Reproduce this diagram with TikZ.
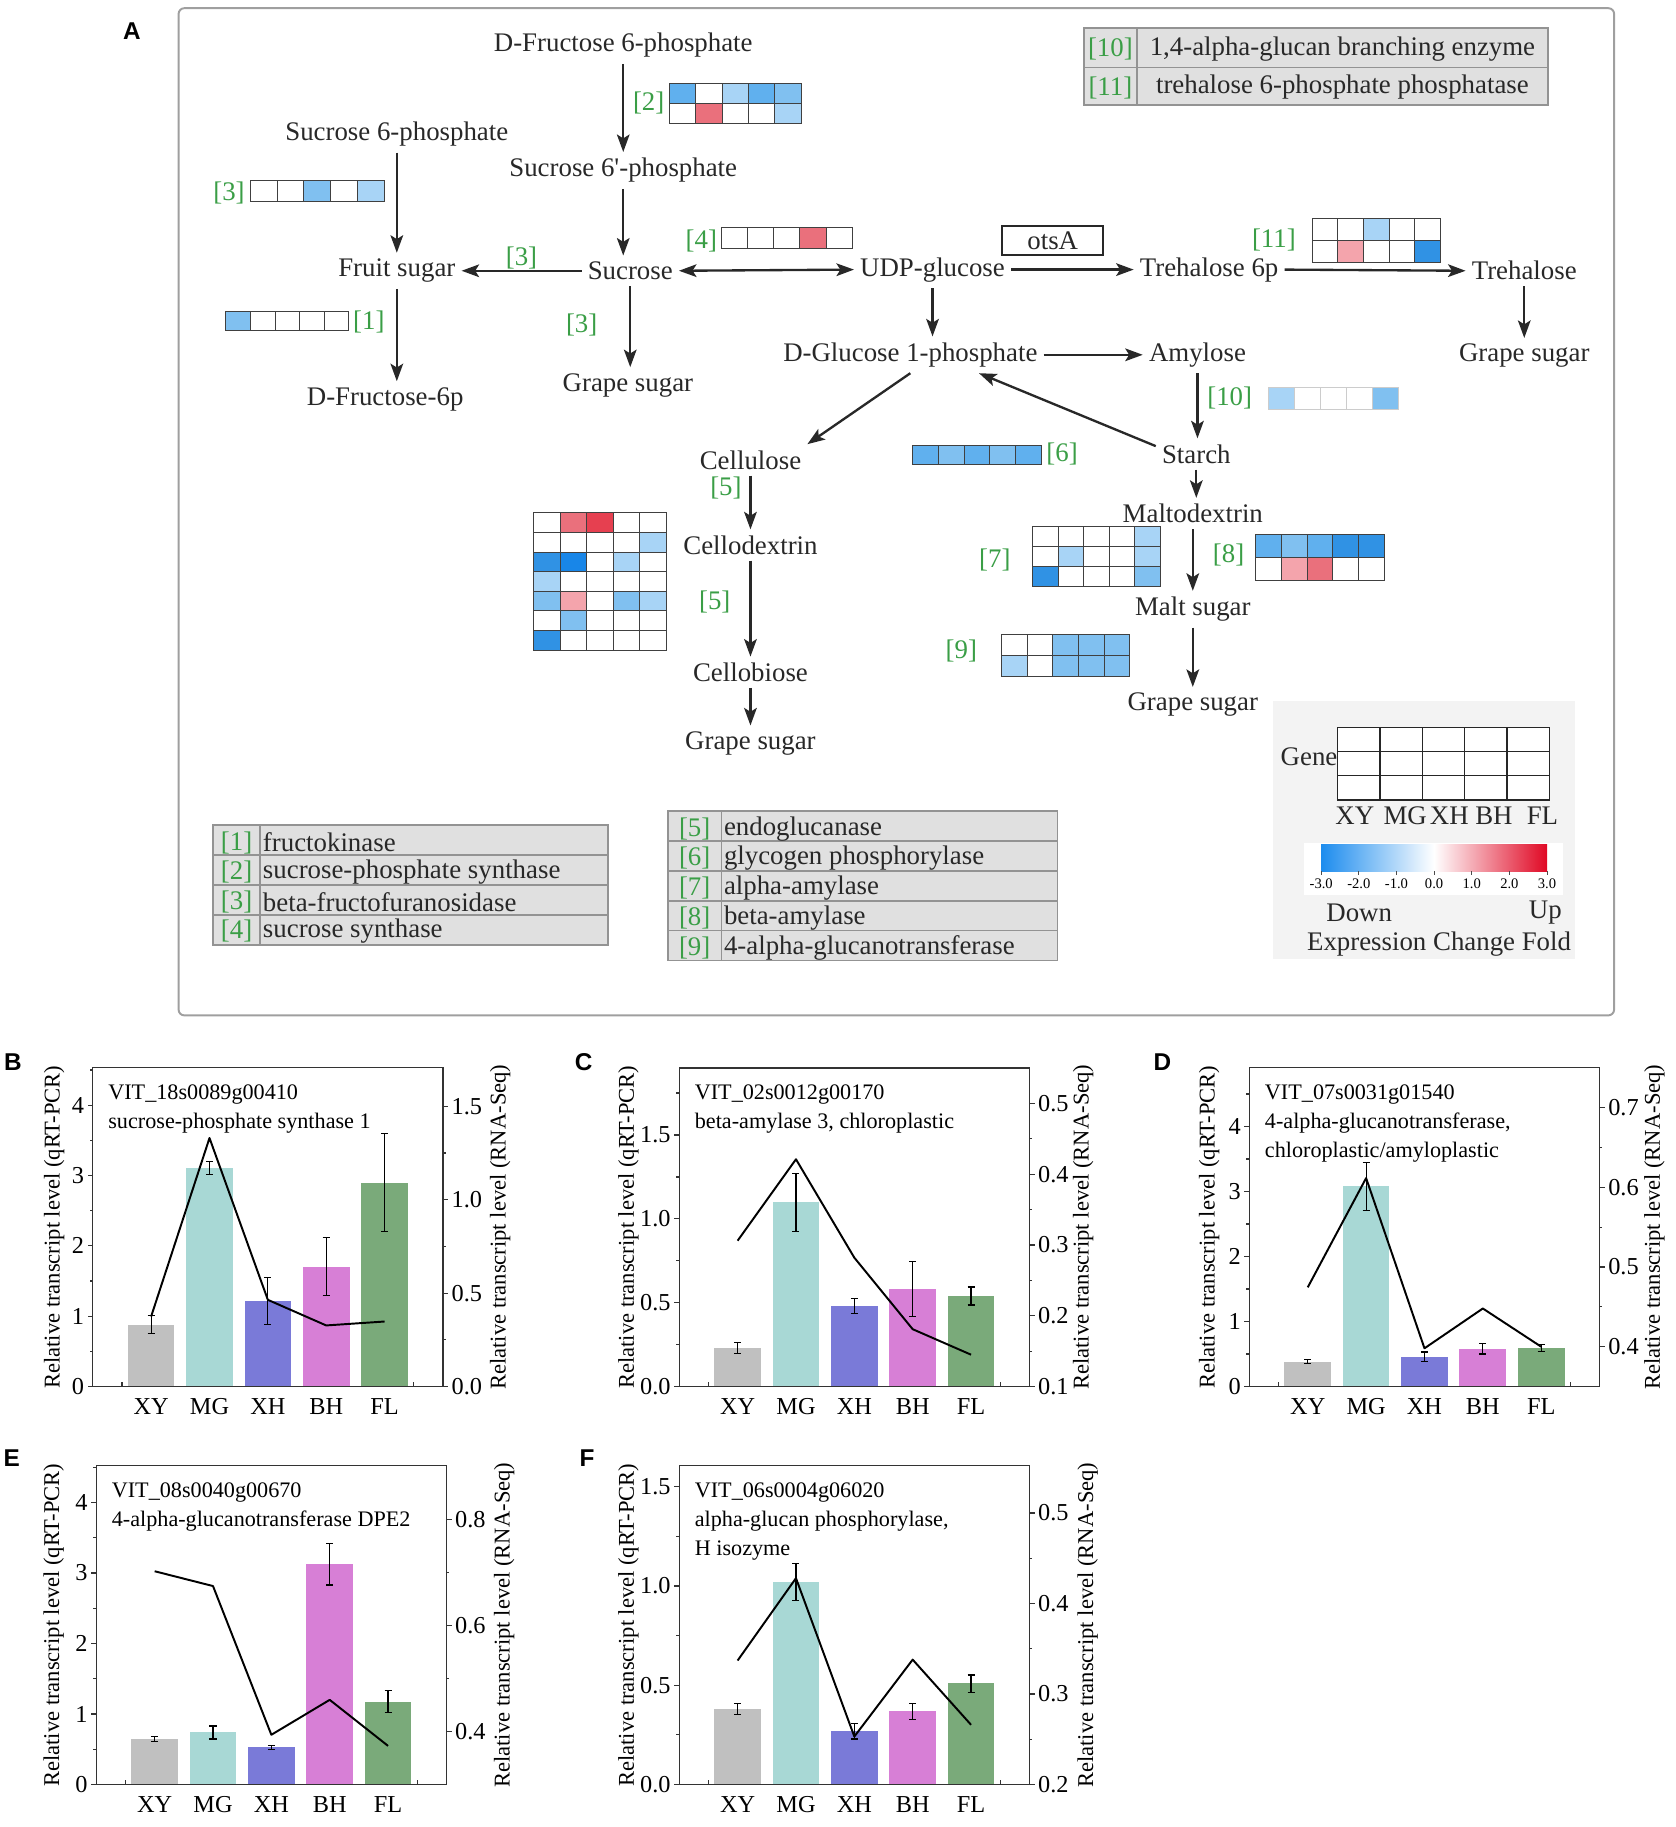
\documentclass[tikz,border=0pt]{standalone}
\usepackage{fontspec}
\setmainfont{Liberation Serif}
\newfontfamily\panelfont{Liberation Sans}
\usetikzlibrary{arrows.meta}

\definecolor{inkgray}{RGB}{40,40,40}
\definecolor{enzgreen}{RGB}{58,158,70}
\definecolor{hb1}{RGB}{168,212,246}
\definecolor{hb2}{RGB}{128,192,240}
\definecolor{hb3}{RGB}{96,176,238}
\definecolor{hb4}{RGB}{48,146,228}
\definecolor{hb5}{RGB}{24,134,232}
\definecolor{hr1}{RGB}{244,164,172}
\definecolor{hr2}{RGB}{234,112,124}
\definecolor{hr3}{RGB}{230,64,80}
\definecolor{tabgray}{RGB}{224,224,224}
\definecolor{leggray}{RGB}{243,243,243}
\definecolor{cbblue}{RGB}{28,140,238}
\definecolor{cbred}{RGB}{224,8,36}
\definecolor{cXY}{RGB}{192,192,192}
\definecolor{cMG}{RGB}{168,216,213}
\definecolor{cXH}{RGB}{122,122,216}
\definecolor{cBH}{RGB}{215,127,214}
\definecolor{cFL}{RGB}{122,170,122}

% heat map: x0, y0, cell width, cell height, rows of colours
\newcommand{\hmap}[5]{%
  \foreach \hrow [count=\hr from 0] in {#5}{
    \foreach \hcol [count=\hk from 0] in \hrow
      \draw[cell, fill=\hcol] ({#1+\hk*#3},{#2+\hr*#4}) rectangle ++(#3,#4);
  }}

\begin{document}
\begin{tikzpicture}[x=0.6pt, y=-0.6pt,
  met/.style={font=\fontsize{13.8}{16}\selectfont, text=inkgray, inner sep=3pt},
  enz/.style={font=\fontsize{13.8}{16}\selectfont, text=enzgreen, inner sep=0pt},
  tabtxt/.style={font=\fontsize{13.8}{16}\selectfont, text=inkgray, inner sep=0pt},
  arr/.style={draw=inkgray, line width=1.2pt, -{Stealth[length=9pt,width=6.5pt,inset=2pt]}},
  dblarr/.style={draw=inkgray, line width=1.2pt, {Stealth[length=9pt,width=6.5pt,inset=2pt]}-{Stealth[length=9pt,width=6.5pt,inset=2pt]}},
  cell/.style={draw=black!75, line width=0.5pt},
  tab/.style={fill=tabgray, draw=gray!85, line width=0.8pt},
  tabline/.style={draw=gray!85, line width=0.8pt},
  panel/.style={font=\panelfont\bfseries\fontsize{12.5}{14}\selectfont, inner sep=0pt},
  frame/.style={draw=black!80, line width=0.6pt},
  errbar/.style={draw=black, line width=0.6pt},
  trend/.style={draw=black, line width=1pt, line join=round},
  ticklab/.style={font=\fontsize{12.5}{14}\selectfont, inner sep=1.5pt},
  catlab/.style={font=\fontsize{12.5}{14}\selectfont, anchor=base, yshift=-14.6pt, inner sep=0pt},
  axtitle/.style={font=\fontsize{11.6}{14}\selectfont, rotate=90, inner sep=0pt},
  genetxt/.style={font=\fontsize{11.4}{14}\selectfont, anchor=base west, inner sep=0pt},
  smalltick/.style={font=\fontsize{7.5}{9}\selectfont, inner sep=0pt}]
\useasboundingbox (0,0) rectangle (1436,1565.4);

% ---------- panel A ----------
\draw[draw=gray!75, line width=1pt, rounded corners=3pt] (153,7) rectangle (1383,870);
\node[panel] (labA) at (113,27) {A};

% enzyme tables
\draw[tab] (928.7,24) rectangle (1326.5,90);
\draw[tabline] (974,24) -- (974,90) (928.7,58) -- (1326.5,58);
\node[enz] (t10) at (951.4,42) {[10]};
\node[tabtxt] (t10name) at (1150.2,42) {1,4-alpha-glucan branching enzyme};
\node[enz] (t11) at (951.4,75) {[11]};
\node[tabtxt] (t11name) at (1150.2,75) {trehalose 6-phosphate phosphatase};

\draw[tab] (182.5,707) rectangle (521,809.5);
\foreach \ty in {732.6,758.3,783.9}
  \draw[tabline] (182.5,\ty) -- (521,\ty);
\draw[tabline] (223,707) -- (223,809.5);
\foreach \en/\et/\ty in {1/fructokinase/722,2/sucrose-phosphate synthase/747,
    3/beta-fructofuranosidase/773,4/sucrose synthase/798}{
  \node[enz] (tn\en) at (202.7,\ty) {[\en]};
  \node[tabtxt, anchor=west] (tt\en) at (225,\ty) {\et};
}

\draw[tab] (572.5,695) rectangle (906,823);
\foreach \ty in {720.6,746.2,771.8,797.4}
  \draw[tabline] (572.5,\ty) -- (906,\ty);
\draw[tabline] (618,695) -- (618,823);
\foreach \en/\et/\ty in {5/endoglucanase/710,6/glycogen phosphorylase/735.4,
    7/alpha-amylase/761,8/beta-amylase/786.6,9/4-alpha-glucanotransferase/812.2}{
  \node[enz] (tn\en) at (595.2,\ty) {[\en]};
  \node[tabtxt, anchor=west] (tt\en) at (620,\ty) {\et};
}

% metabolites
\node[met] (fsixp) at (534,39) {D-Fructose 6-phosphate};
\node[met] (sucsixpp) at (534,146) {Sucrose 6\textquotesingle-phosphate};
\node[met] (sucsixp) at (340,115) {Sucrose 6-phosphate};
\node[met] (fruit) at (340,232) {Fruit sugar};
\node[met] (suc) at (540,232) {Sucrose};
\node[met] (udp) at (799,231) {UDP-glucose};
\node[met] (tresixp) at (1036,231) {Trehalose 6p};
\node[met] (tre) at (1306,232) {Trehalose};
\node[met] (grapeT) at (1306,305) {Grape sugar};
\node[met] (fsixpb) at (330,342) {D-Fructose-6p};
\node[met] (grapeS) at (538,330) {Grape sugar};
\node[met] (gonep) at (780,304) {D-Glucose 1-phosphate};
\node[met] (amyl) at (1026,304) {Amylose};
\node[met] (starch) at (1025,389) {Starch};
\node[met] (malto) at (1022,440) {Maltodextrin};
\node[met] (malt) at (1022,522) {Malt sugar};
\node[met] (grapeM) at (1022,604) {Grape sugar};
\node[met] (cellu) at (643,394) {Cellulose};
\node[met] (celld) at (643,467) {Cellodextrin};
\node[met] (cellb) at (643,576) {Cellobiose};
\node[met] (grapeC) at (643,637) {Grape sugar};
\node[met, draw=inkgray, line width=1.2pt, minimum width=52pt, minimum height=15pt, inner sep=0pt] (ots) at (902,206) {otsA};

% reactions
\draw[arr] (fsixp.south) -- (sucsixpp.north);
\draw[arr] (sucsixpp.south) -- (sucsixpp.south |- suc.north);
\draw[arr] (sucsixp.south) -- (fruit.north);
\draw[arr] (suc.west) -- (fruit.east);
\draw[dblarr] (suc.east) -- (udp.west);
\draw[arr] (fruit.south) -- (fruit.south |- fsixpb.north);
\draw[arr] (suc.south) -- (suc.south |- grapeS.north);
\draw[arr] (udp.east) -- (tresixp.west);
\draw[arr] (tresixp.east) -- (tre.west);
\draw[arr] (tre.south) -- (grapeT.north);
\draw[arr] (udp.south) -- (udp.south |- gonep.north);
\draw[arr] (gonep.east) -- (amyl.west);
\draw[arr] (gonep.south) -- (cellu.north east);
\draw[arr] (starch.169) -- (gonep.-15);
\draw[arr] (amyl.south) -- (amyl.south |- starch.north);
\draw[arr] (starch.south) -- (starch.south |- malto.north);
\draw[arr] (malto.south) -- (malto.south |- malt.north);
\draw[arr] (malt.south) -- (malt.south |- grapeM.north);
\draw[arr] (cellu.south) -- (celld.north);
\draw[arr] (celld.south) -- (cellb.north);
\draw[arr] (cellb.south) -- (grapeC.north);

% enzyme numbers
\node[enz] (e2) at (555.8,88) {[2]};
\node[enz] (e3a) at (196.2,165.7) {[3]};
\node[enz] (e3b) at (446.8,221.4) {[3]};
\node[enz] (e4) at (600.9,206.3) {[4]};
\node[enz] (e1) at (316,275.7) {[1]};
\node[enz] (e3c) at (498.4,278.5) {[3]};
\node[enz] (e11) at (1091.5,205.7) {[11]};
\node[enz] (e10) at (1053.6,341.4) {[10]};
\node[enz] (e6) at (910,388.7) {[6]};
\node[enz] (e5a) at (622,418.5) {[5]};
\node[enz] (e5b) at (612.4,515.6) {[5]};
\node[enz] (e7) at (852.4,480) {[7]};
\node[enz] (e8) at (1052.7,475.1) {[8]};
\node[enz] (e9) at (823.7,557.9) {[9]};

% heat maps
\hmap{573.4}{71.4}{22.6}{17.1}{{hb3,white,hb1,hb3,hb2},{white,hr2,white,white,hb1}}
\hmap{214.6}{154.3}{22.9}{18.5}{{white,white,hb2,white,hb1}}
\hmap{618.2}{195.1}{22.4}{17.7}{{white,white,white,hr2,white}}
\hmap{193.5}{267.1}{21.1}{16.3}{{hb2,white,white,white,white}}
\hmap{1124.3}{187.1}{22.0}{18.85}{{white,white,hb1,white,white},{white,hr1,white,white,hb4}}
\begin{scope}[cell/.style={draw=gray!40, line width=0.5pt}]
\hmap{1086.9}{332.2}{22.3}{18.6}{{hb1,white,white,white,hb2}}
\end{scope}
\hmap{781.6}{381.5}{22.2}{16.5}{{hb3,hb2,hb3,hb2,hb3}}
\hmap{457.5}{439.4}{22.7}{16.8}{{white,hr2,hr3,white,white},{white,white,white,white,hb1},
  {hb4,hb5,white,hb1,white},{hb1,white,white,white,white},{hb2,hr1,white,hb2,hb1},
  {white,hb2,white,white,white},{hb4,white,white,white,white}}
\hmap{884.8}{451.1}{21.9}{17.2}{{white,white,white,white,hb1},{white,hb1,white,white,hb1},
  {hb4,white,white,white,hb2}}
\hmap{1075.8}{457.7}{22.1}{19.75}{{hb3,hb2,hb3,hb4,hb4},{white,hr1,hr2,white,white}}
\hmap{858.4}{543.8}{21.9}{17.7}{{white,white,hb2,hb2,hb2},{hb1,white,hb2,hb2,hb2}}

% legend
\fill[leggray] (1090.6,601) rectangle (1349.5,822);
\begin{scope}[cell/.style={draw=black!85, line width=0.7pt}]
\hmap{1146}{623.5}{36.3}{20.6}{{white,white,white,white,white},{white,white,white,white,white},
  {white,white,white,white,white}}
\end{scope}
\node[met, inner sep=0pt] (gene) at (1121.6,648) {Gene};
\foreach \sn/\sx in {XY/1160.8,MG/1204,XH/1241.8,BH/1280,FL/1321.6}
  \node[met, inner sep=0pt] (leg\sn) at (\sx,699) {\sn};
\fill[white] (1117,722) rectangle (1339.4,767);
\shade[left color=cbblue, right color=white] (1132,724) rectangle (1228.75,746.7);
\shade[left color=white, right color=cbred] (1228.75,724) rectangle (1325.5,746.7);
\foreach \cbv [count=\k from 0] in {-3.0,-2.0,-1.0,0.0,1.0,2.0,3.0}{
  \draw[black!70, line width=0.4pt] ({1132+\k*32.25},746.7) -- ++(0,3);
  \node[smalltick] (cb\k) at ({1132+\k*32.25},757) {\cbv};
}
\node[met, inner sep=0pt] (down) at (1164.6,782) {Down};
\node[met, inner sep=0pt] (up) at (1324,782) {Up};
\node[met, inner sep=0pt] (ecf) at (1233,809) {Expression Change Fold};

% ---------- panel B ----------
\node[panel] (labB) at (11,910) {B};
\begin{scope}[shift={(79.5,1188)}, x=30pt, y=36.16pt]
  \foreach \bv/\bc [count=\i] in {0.88/cXY,3.10/cMG,1.21/cXH,1.70/cBH,2.90/cFL}
    \fill[\bc] ({\i-0.4},0) rectangle ({\i+0.4},\bv);
  \foreach \lo/\hi [count=\i] in {0.76/1.01,3.01/3.20,0.88/1.55,1.30/2.12,2.20/3.60}
    \draw[errbar] (\i,\lo) -- (\i,\hi) ({\i-0.06},\lo) -- ({\i+0.06},\lo) ({\i-0.06},\hi) -- ({\i+0.06},\hi);
  \draw[frame] (0,0) rectangle (6,4.53);
  \draw[frame] (0.5,0) -- ++(0,2.5pt) (5.5,0) -- ++(0,2.5pt);
  \foreach \y [count=\k] in {0,...,4}
    \draw[frame] (0,\y) -- (-0.09,\y) node[ticklab, anchor=east] (Bl\k) {\y};
  \foreach \y in {0.5,1.5,...,4.5}
    \draw[frame] (0,\y) -- (-0.05,\y);
  \foreach \sn [count=\i] in {XY,MG,XH,BH,FL}
    \node[catlab] (B\sn) at (\i,0) {\sn};
  \node[axtitle] (Byl) at (-0.66,2.265) {Relative transcript level (qRT-PCR)};
  \node[axtitle] (Byr) at (6.98,2.265) {Relative transcript level (RNA-Seq)};
  \node[genetxt, yshift=-16.2pt] (Bg1) at (0.26,4.53) {VIT\_18s0089g00410};
  \node[genetxt, yshift=-31.2pt] (Bg2) at (0.26,4.53) {sucrose-phosphate synthase 1};
  \begin{scope}[y=96.07pt]
    \foreach \bv/\bt [count=\k] in {0/0.0,0.5/0.5,1.0/1.0,1.5/1.5}
      \draw[frame] (6,\bv) -- (6.09,\bv) node[ticklab, anchor=west] (Br\k) {\bt};
    \foreach \bv in {0.25,0.75,1.25}
      \draw[frame] (6,\bv) -- (6.05,\bv);
    \draw[trend] (1,0.375) -- (2,1.33) -- (3,0.464) -- (4,0.327) -- (5,0.348);
  \end{scope}
\end{scope}

% ---------- panel C ----------
\node[panel] (labC) at (500,910) {C};
\begin{scope}[shift={(582,1188)}, x=30pt, y=86.21pt]
  \foreach \bv/\bc [count=\i] in {0.23/cXY,1.10/cMG,0.48/cXH,0.58/cBH,0.54/cFL}
    \fill[\bc] ({\i-0.4},0) rectangle ({\i+0.4},\bv);
  \foreach \lo/\hi [count=\i] in {0.196/0.264,0.924/1.27,0.436/0.524,0.42/0.744,0.486/0.594}
    \draw[errbar] (\i,\lo) -- (\i,\hi) ({\i-0.06},\lo) -- ({\i+0.06},\lo) ({\i-0.06},\hi) -- ({\i+0.06},\hi);
  \draw[frame] (0,0) rectangle (6,1.9);
  \draw[frame] (0.5,0) -- ++(0,2.5pt) (5.5,0) -- ++(0,2.5pt);
  \foreach \bv/\bt [count=\k] in {0/0.0,0.5/0.5,1.0/1.0,1.5/1.5}
    \draw[frame] (0,\bv) -- (-0.09,\bv) node[ticklab, anchor=east] (Cl\k) {\bt};
  \foreach \y in {0.25,0.75,...,1.75}
    \draw[frame] (0,\y) -- (-0.05,\y);
  \foreach \sn [count=\i] in {XY,MG,XH,BH,FL}
    \node[catlab] (C\sn) at (\i,0) {\sn};
  \node[axtitle] (Cyl) at (-0.87,0.95) {Relative transcript level (qRT-PCR)};
  \node[axtitle] (Cyr) at (6.92,0.95) {Relative transcript level (RNA-Seq)};
  \node[genetxt, yshift=-16.2pt] (Cg1) at (0.26,1.9) {VIT\_02s0012g00170};
  \node[genetxt, yshift=-31.2pt] (Cg2) at (0.26,1.9) {beta-amylase 3, chloroplastic};
  \begin{scope}[y=364pt, shift={(0,-0.1)}]
    \foreach \bv/\bt [count=\k] in {0.1/0.1,0.2/0.2,0.3/0.3,0.4/0.4,0.5/0.5}
      \draw[frame] (6,\bv) -- (6.09,\bv) node[ticklab, anchor=west] (Cr\k) {\bt};
    \foreach \bv in {0.15,0.25,0.35,0.45}
      \draw[frame] (6,\bv) -- (6.05,\bv);
    \draw[trend] (1,0.306) -- (2,0.421) -- (3,0.282) -- (4,0.181) -- (5,0.145);
  \end{scope}
\end{scope}

% ---------- panel D ----------
\node[panel] (labD) at (996,910) {D};
\begin{scope}[shift={(1070.5,1188)}, x=30pt, y=33.43pt]
  \foreach \bv/\bc [count=\i] in {0.385/cXY,3.08/cMG,0.46/cXH,0.58/cBH,0.595/cFL}
    \fill[\bc] ({\i-0.4},0) rectangle ({\i+0.4},\bv);
  \foreach \lo/\hi [count=\i] in {0.35/0.42,2.71/3.45,0.385/0.53,0.50/0.656,0.54/0.65}
    \draw[errbar] (\i,\lo) -- (\i,\hi) ({\i-0.06},\lo) -- ({\i+0.06},\lo) ({\i-0.06},\hi) -- ({\i+0.06},\hi);
  \draw[frame] (0,0) rectangle (6,4.9);
  \draw[frame] (0.5,0) -- ++(0,2.5pt) (5.5,0) -- ++(0,2.5pt);
  \foreach \y [count=\k] in {0,...,4}
    \draw[frame] (0,\y) -- (-0.09,\y) node[ticklab, anchor=east] (Dl\k) {\y};
  \foreach \y in {0.5,1.5,...,4.5}
    \draw[frame] (0,\y) -- (-0.05,\y);
  \foreach \sn [count=\i] in {XY,MG,XH,BH,FL}
    \node[catlab] (D\sn) at (\i,0) {\sn};
  \node[axtitle] (Dyl) at (-0.69,2.45) {Relative transcript level (qRT-PCR)};
  \node[axtitle] (Dyr) at (6.94,2.45) {Relative transcript level (RNA-Seq)};
  \node[genetxt, yshift=-16.2pt] (Dg1) at (0.26,4.9) {VIT\_07s0031g01540};
  \node[genetxt, yshift=-31.2pt] (Dg2) at (0.26,4.9) {4-alpha-glucanotransferase,};
  \node[genetxt, yshift=-46.2pt] (Dg3) at (0.26,4.9) {chloroplastic/amyloplastic};
  \begin{scope}[y=409.5pt, shift={(0,-0.35)}]
    \foreach \bv/\bt [count=\k] in {0.4/0.4,0.5/0.5,0.6/0.6,0.7/0.7}
      \draw[frame] (6,\bv) -- (6.09,\bv) node[ticklab, anchor=west] (Dr\k) {\bt};
    \foreach \bv in {0.45,0.55,0.65}
      \draw[frame] (6,\bv) -- (6.05,\bv);
    \draw[trend] (1,0.4746) -- (2,0.6117) -- (3,0.398) -- (4,0.448) -- (5,0.40);
  \end{scope}
\end{scope}

% ---------- panel E ----------
\node[panel] (labE) at (10,1249) {E};
\begin{scope}[shift={(82.5,1529)}, x=30pt, y=36.24pt]
  \foreach \bv/\bc [count=\i] in {0.645/cXY,0.74/cMG,0.526/cXH,3.13/cBH,1.175/cFL}
    \fill[\bc] ({\i-0.4},0) rectangle ({\i+0.4},\bv);
  \foreach \lo/\hi [count=\i] in {0.607/0.687,0.645/0.83,0.498/0.555,2.83/3.42,1.02/1.33}
    \draw[errbar] (\i,\lo) -- (\i,\hi) ({\i-0.06},\lo) -- ({\i+0.06},\lo) ({\i-0.06},\hi) -- ({\i+0.06},\hi);
  \draw[frame] (0,0) rectangle (6,4.52);
  \draw[frame] (0.5,0) -- ++(0,2.5pt) (5.5,0) -- ++(0,2.5pt);
  \foreach \y [count=\k] in {0,...,4}
    \draw[frame] (0,\y) -- (-0.09,\y) node[ticklab, anchor=east] (El\k) {\y};
  \foreach \y in {0.5,1.5,...,4.5}
    \draw[frame] (0,\y) -- (-0.05,\y);
  \foreach \sn [count=\i] in {XY,MG,XH,BH,FL}
    \node[catlab] (E\sn) at (\i,0) {\sn};
  \node[axtitle] (Eyl) at (-0.73,2.26) {Relative transcript level (qRT-PCR)};
  \node[axtitle] (Eyr) at (6.99,2.26) {Relative transcript level (RNA-Seq)};
  \node[genetxt, yshift=-16.2pt] (Eg1) at (0.26,4.52) {VIT\_08s0040g00670};
  \node[genetxt, yshift=-31.2pt] (Eg2) at (0.26,4.52) {4-alpha-glucanotransferase DPE2};
  \begin{scope}[y=272.1pt, shift={(0,-0.3)}]
    \foreach \bv/\bt [count=\k] in {0.4/0.4,0.6/0.6,0.8/0.8}
      \draw[frame] (6,\bv) -- (6.09,\bv) node[ticklab, anchor=west] (Er\k) {\bt};
    \foreach \bv in {0.5,0.7}
      \draw[frame] (6,\bv) -- (6.05,\bv);
    \draw[trend] (1,0.703) -- (2,0.675) -- (3,0.394) -- (4,0.46) -- (5,0.373);
  \end{scope}
\end{scope}

% ---------- panel F ----------
\node[panel] (labF) at (503,1249) {F};
\begin{scope}[shift={(582,1529)}, x=30pt, y=102.06pt]
  \foreach \bv/\bc [count=\i] in {0.381/cXY,1.022/cMG,0.269/cXH,0.37/cBH,0.51/cFL}
    \fill[\bc] ({\i-0.4},0) rectangle ({\i+0.4},\bv);
  \foreach \lo/\hi [count=\i] in {0.353/0.41,0.928/1.112,0.229/0.309,0.329/0.41,0.465/0.552}
    \draw[errbar] (\i,\lo) -- (\i,\hi) ({\i-0.06},\lo) -- ({\i+0.06},\lo) ({\i-0.06},\hi) -- ({\i+0.06},\hi);
  \draw[frame] (0,0) rectangle (6,1.605);
  \draw[frame] (0.5,0) -- ++(0,2.5pt) (5.5,0) -- ++(0,2.5pt);
  \foreach \bv/\bt [count=\k] in {0/0.0,0.5/0.5,1.0/1.0,1.5/1.5}
    \draw[frame] (0,\bv) -- (-0.09,\bv) node[ticklab, anchor=east] (Fl\k) {\bt};
  \foreach \y in {0.25,0.75,1.25}
    \draw[frame] (0,\y) -- (-0.05,\y);
  \foreach \sn [count=\i] in {XY,MG,XH,BH,FL}
    \node[catlab] (F\sn) at (\i,0) {\sn};
  \node[axtitle] (Fyl) at (-0.87,0.8025) {Relative transcript level (qRT-PCR)};
  \node[axtitle] (Fyr) at (7.0,0.8025) {Relative transcript level (RNA-Seq)};
  \node[genetxt, yshift=-16.2pt] (Fg1) at (0.26,1.605) {VIT\_06s0004g06020};
  \node[genetxt, yshift=-31.2pt] (Fg2) at (0.26,1.605) {alpha-glucan phosphorylase,};
  \node[genetxt, yshift=-46.2pt] (Fg3) at (0.26,1.605) {H isozyme};
  \begin{scope}[y=465.3pt, shift={(0,-0.2)}]
    \foreach \bv/\bt [count=\k] in {0.2/0.2,0.3/0.3,0.4/0.4,0.5/0.5}
      \draw[frame] (6,\bv) -- (6.09,\bv) node[ticklab, anchor=west] (Fr\k) {\bt};
    \foreach \bv in {0.25,0.35,0.45}
      \draw[frame] (6,\bv) -- (6.05,\bv);
    \draw[trend] (1,0.337) -- (2,0.428) -- (3,0.253) -- (4,0.338) -- (5,0.266);
  \end{scope}
\end{scope}
\end{tikzpicture}
\end{document}
